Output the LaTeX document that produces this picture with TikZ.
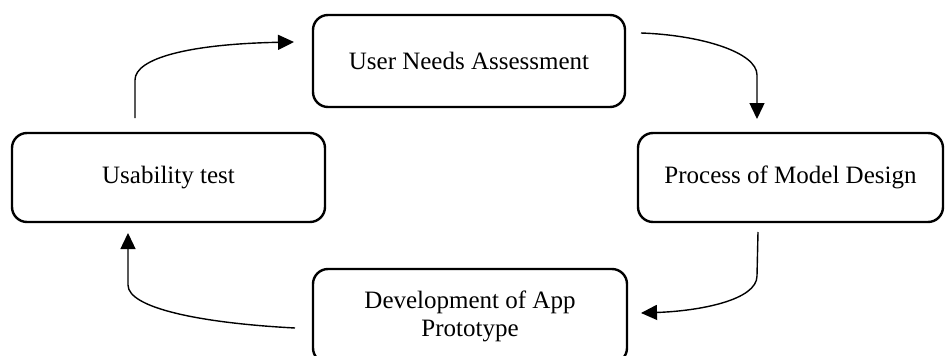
\documentclass[tikz,border=0pt]{standalone}
\usepackage{fontspec}
\setmainfont{Liberation Serif}
\usetikzlibrary{arrows.meta}
\tikzset{
  box/.style={draw, line width=2.4pt, rounded corners=15pt, align=center, font=\fontsize{25}{28}\selectfont, inner sep=0pt},
  flow/.style={line width=1.4pt, -{Triangle[length=16pt,width=15pt]}}
}
\begin{document}
\begin{tikzpicture}[x=1pt,y=-1pt]
\useasboundingbox (0,0) rectangle (945,356);
\clip (0,0) rectangle (945,356);
\node[box, minimum width=312pt, minimum height=92pt] (una) at (469,61) {User Needs Assessment};
\node[box, minimum width=313pt, minimum height=89pt] (usab) at (168.5,177.5) {Usability test};
\node[box, minimum width=305pt, minimum height=89pt] (pmd) at (790.5,177.5) {Process of Model Design};
\node[box, minimum width=314pt, minimum height=94pt] (dev) at (470,316) {Development of App\\Prototype};
\coordinate (a1s) at (135,118);
\coordinate (a1e) at (294,42);
\coordinate (a2s) at (641,33);
\coordinate (a2e) at (757,119);
\coordinate (a3s) at (758,232);
\coordinate (a3e) at (641,313);
\coordinate (a4s) at (295,328);
\coordinate (a4e) at (128,233);
\draw[flow] (a1s) -- (135,80) .. controls (135,58) and (190,44) .. (a1e);
\draw[flow] (a2s) .. controls (700,35) and (757,52) .. (757,75) -- (a2e);
\draw[flow] (a3s) -- (757,276) .. controls (757,300) and (700,311) .. (a3e);
\draw[flow] (a4s) .. controls (200,323) and (128,308) .. (128,285) -- (a4e);
\end{tikzpicture}
\end{document}
